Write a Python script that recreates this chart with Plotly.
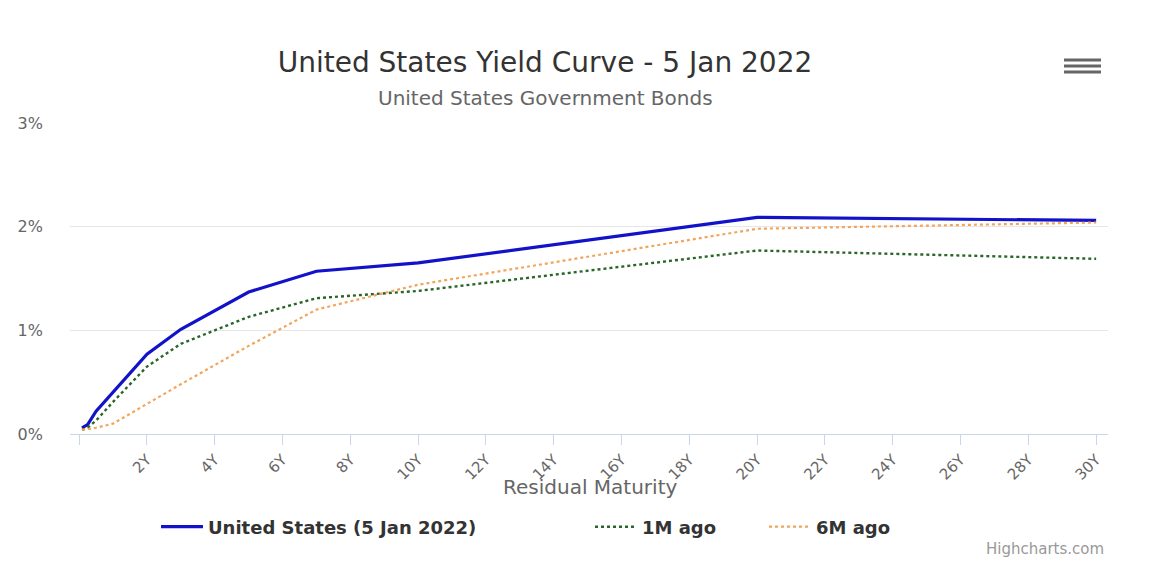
import plotly.graph_objects as go

# ---- data ----
maturities = [1/12, 0.25, 0.5, 1, 2, 3, 5, 7, 10, 20, 30]
us_now = [0.06, 0.09, 0.22, 0.40, 0.77, 1.01, 1.37, 1.57, 1.65, 2.09, 2.06]
us_1m = [0.04, 0.06, 0.13, 0.31, 0.65, 0.87, 1.13, 1.31, 1.38, 1.77, 1.69]
us_6m = [0.04, 0.05, 0.06, 0.10, 0.29, 0.48, 0.85, 1.20, 1.44, 1.98, 2.04]
x_tickvals = [0, 2, 4, 6, 8, 10, 12, 14, 16, 18, 20, 22, 24, 26, 28, 30]
x_ticktext = ["", "2Y", "4Y", "6Y", "8Y", "10Y", "12Y", "14Y", "16Y", "18Y",
              "20Y", "22Y", "24Y", "26Y", "28Y", "30Y"]
y_tickvals = [0, 1, 2, 3]
y_ticktext = ["0%", "1%", "2%", "3%"]

# page offset (browser body margin) compensation
OFF = 8
W, H = 1166 - OFF, 562 - OFF
# plot area in reference pixels
L_REF, R_REF, T_REF, B_REF = 70, 1108, 123, 434
ML, MT = L_REF - OFF, T_REF - OFF
MR = W - (R_REF - OFF)
MB = H - (B_REF - OFF)
PW, PH = W - ML - MR, H - MT - MB

def px(x):
    return (x - OFF - ML) / PW

def py(y):
    return (H - MB - (y - OFF)) / PH

FONT = "DejaVu Sans"

fig = go.Figure()
fig.add_trace(go.Scatter(x=maturities, y=us_now, mode="lines",
                         name="United States (5 Jan 2022)", legend="legend",
                         line=dict(color="#1212c8", width=3.2)))
fig.add_trace(go.Scatter(x=maturities, y=us_1m, mode="lines", name="1M ago",
                         legend="legend2",
                         line=dict(color="#2a662a", width=2.4, dash="dot")))
fig.add_trace(go.Scatter(x=maturities, y=us_6m, mode="lines", name="6M ago",
                         legend="legend3",
                         line=dict(color="#f2a55a", width=2.2, dash="dot")))

leg_common = dict(orientation="h", xanchor="left", yanchor="middle",
                  y=py(527), bgcolor="rgba(0,0,0,0)", borderwidth=0,
                  itemwidth=42,
                  font=dict(family=FONT, size=18, color="#333333", weight="bold"))

fig.update_layout(
    width=W, height=H,
    margin=dict(l=ML, r=MR, t=MT, b=MB, autoexpand=False),
    paper_bgcolor="white", plot_bgcolor="white",
    font=dict(family=FONT, color="#666666"),
    title=dict(text="United States Yield Curve - 5 Jan 2022",
               x=(545 - OFF) / W, xanchor="center", xref="container",
               y=1 - (62 - OFF) / H, yanchor="middle", yref="container",
               font=dict(family=FONT, size=28, color="#333333")),
    showlegend=True,
    legend=dict(x=px(156), **leg_common),
    legend2=dict(x=px(590), **leg_common),
    legend3=dict(x=px(764), **leg_common),
    xaxis=dict(range=[-0.27, 30.35], tickvals=x_tickvals, ticktext=x_ticktext,
               tickangle=-45, showgrid=False, zeroline=False,
               showline=True, linecolor="#ccd6eb", linewidth=1,
               ticks="outside", ticklen=10, tickcolor="#ccd6eb",
               tickfont=dict(family=FONT, size=15, color="#666666")),
    yaxis=dict(range=[0, 3], tickvals=y_tickvals, ticktext=y_ticktext,
               showgrid=True, gridcolor="#e6e6e6", gridwidth=1,
               zeroline=False, showline=False, ticks="",
               ticklabelstandoff=26,
               tickfont=dict(family=FONT, size=16, color="#666666")),
    annotations=[
        dict(text="United States Government Bonds", xref="paper", yref="paper",
             x=px(545), y=py(98), xanchor="center", yanchor="middle",
             showarrow=False, font=dict(family=FONT, size=20, color="#666666")),
        dict(text="Residual Maturity", xref="paper", yref="paper",
             x=px(590), y=py(487), xanchor="center", yanchor="middle",
             showarrow=False, font=dict(family=FONT, size=20, color="#666666")),
        dict(text="Highcharts.com", xref="paper", yref="paper",
             x=px(1106), y=py(549), xanchor="right", yanchor="middle",
             showarrow=False, font=dict(family=FONT, size=15, color="#999999")),
    ],
    shapes=[
        dict(type="line", xref="paper", yref="paper",
             x0=px(1064), x1=px(1101), y0=py(yy), y1=py(yy),
             line=dict(color="#666666", width=3))
        for yy in (60, 66, 72)
    ],
)

fig.write_html("out.html")
